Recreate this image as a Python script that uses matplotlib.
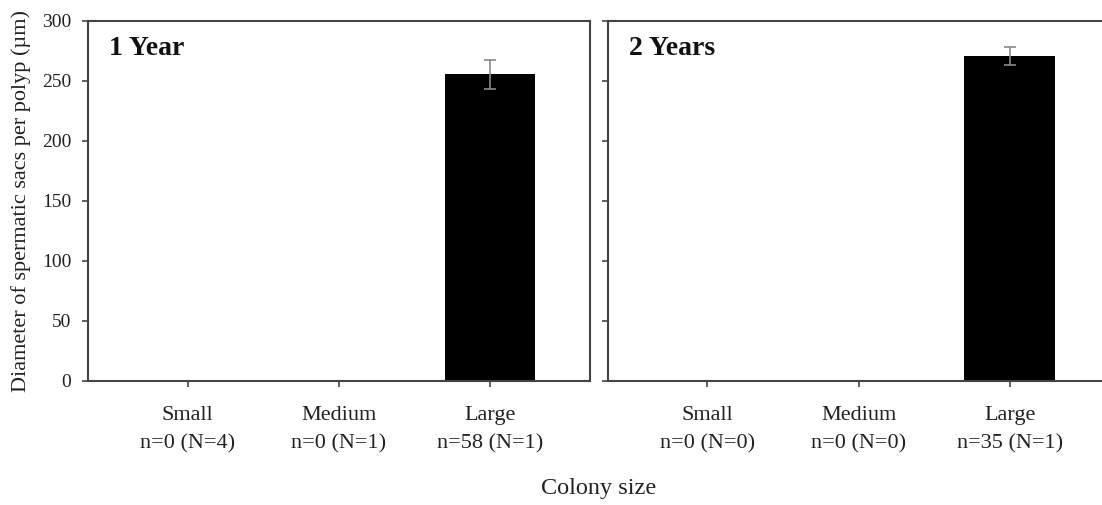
import numpy as np
import matplotlib
matplotlib.use("Agg")
import matplotlib.pyplot as plt

plt.rcParams['font.family'] = ['Liberation Serif', 'DejaVu Serif']

sizes = ["Small", "Medium", "Large"]
counts_1yr = ["n=0 (N=4)", "n=0 (N=1)", "n=58 (N=1)"]
counts_2yr = ["n=0 (N=0)", "n=0 (N=0)", "n=35 (N=1)"]
diam_1yr = [np.nan, np.nan, 255.5]
err_1yr = [np.nan, np.nan, 12.0]
diam_2yr = [np.nan, np.nan, 270.5]
err_2yr = [np.nan, np.nan, 7.5]

fig = plt.figure(figsize=(11.02, 5.05), dpi=100)
ax1 = fig.add_axes([0.0799, 0.2461, 0.4551, 0.7129])
ax2 = fig.add_axes([0.5515, 0.2461, 0.4551, 0.7129])

panels = [(ax1, "1 Year", diam_1yr, err_1yr, counts_1yr),
          (ax2, "2 Years", diam_2yr, err_2yr, counts_2yr)]

x = np.arange(len(sizes))
for ax, title, vals, errs, counts in panels:
    ax.bar(x, vals, width=0.6, color="black")
    ax.errorbar(x, vals, yerr=errs, fmt="none", ecolor="#8a8a8a",
                elinewidth=1.2, capsize=4.3, capthick=1.2)
    ax.set_xlim(-0.66, 2.66)
    ax.set_ylim(0, 300)
    ax.set_yticks(range(0, 301, 50))
    ax.set_xticks(x)
    ax.set_xticklabels([s + "\n" + c for s, c in zip(sizes, counts)],
                       fontsize=16, linespacing=1.7, color="#222222")
    ax.tick_params(axis="x", length=4, width=1.2, pad=14, color="#444444")
    ax.tick_params(axis="y", length=4, width=1.2, pad=8, color="#444444",
                   labelsize=14, labelcolor="#222222")
    for sp in ax.spines.values():
        sp.set_linewidth(1.5)
        sp.set_color("#444444")
    ax.text(0.042, 0.924, title, transform=ax.transAxes, fontsize=20,
            fontweight="bold", ha="left", va="center", color="#111111")

ax2.set_yticklabels([])
ax1.set_ylabel("Diameter of spermatic sacs per polyp (\u00b5m)", fontsize=16,
               color="#222222", labelpad=8)
fig.text(0.543, 0.033, "Colony size", fontsize=17.5, ha="center",
         va="center", color="#222222")

fig.savefig("out.png", dpi=100)
